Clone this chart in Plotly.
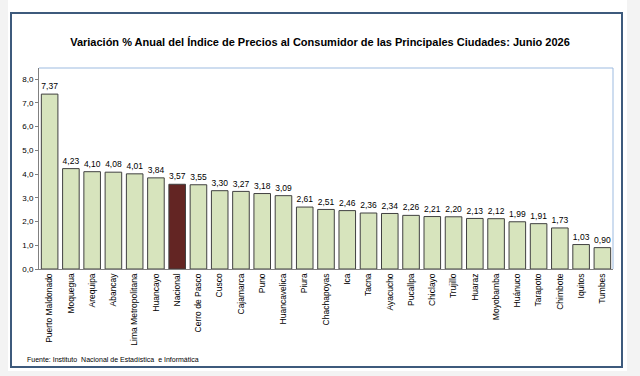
import plotly.graph_objects as go

cities = ["Puerto Maldonado", "Moquegua", "Arequipa", "Abancay", "Lima Metropolitana",
          "Huancayo", "Nacional", "Cerro de Pasco", "Cusco", "Cajamarca", "Puno",
          "Huancavelica", "Piura", "Chachapoyas", "Ica", "Tacna", "Ayacucho", "Pucallpa",
          "Chiclayo", "Trujillo", "Huaraz", "Moyobamba", "Huánuco", "Tarapoto",
          "Chimbote", "Iquitos", "Tumbes"]
values = [7.37, 4.23, 4.10, 4.08, 4.01, 3.84, 3.57, 3.55, 3.30, 3.27, 3.18, 3.09, 2.61,
          2.51, 2.46, 2.36, 2.34, 2.26, 2.21, 2.20, 2.13, 2.12, 1.99, 1.91, 1.73, 1.03, 0.90]
y_ticks = [0, 1, 2, 3, 4, 5, 6, 7, 8]
title_text = "Variación % Anual del Índice de Precios al Consumidor de las Principales Ciudades: Junio 2026"
source_text = "Fuente: Instituto  Nacional de Estadística  e Informática"

GREEN = "#d7e4bd"
RED = "#632523"
GRAY_BG = "#f3f3f3"
colors = [RED if c == "Nacional" else GREEN for c in cities]
labels = [f"{v:.2f}".replace(".", ",") for v in values]

fig = go.Figure(go.Bar(
    x=cities, y=values, marker=dict(color=colors, line=dict(color="#404040", width=1)),
    text=labels, textposition="outside", cliponaxis=False,
    textfont=dict(family="Liberation Sans, Arial", size=9, color="#000000"),
))

W, H = 640, 376
ml, mr, mt, mb = 39, 27, 68, 107
pw, ph = W - ml - mr, H - mt - mb

def px_x(x):
    return (x - ml) / pw

def px_y(y):
    return (H - mb - y) / ph

fig.update_layout(
    width=W, height=H, margin=dict(l=ml, r=mr, t=mt, b=mb, pad=0),
    paper_bgcolor="white", plot_bgcolor="white",
    separators=",.",
    bargap=0.22, showlegend=False,
    title=dict(text="<b>" + title_text + "</b>", x=px_x(320), xref="paper", xanchor="center",
               y=1 - 42 / H, yref="container", yanchor="middle",
               font=dict(family="Liberation Sans, Arial", size=11, color="#000000")),
    xaxis=dict(tickangle=-90, tickfont=dict(family="Liberation Sans, Arial", size=8.5, color="#000"),
               showline=True, linecolor="#808080", linewidth=1, ticks="", showgrid=False),
    yaxis=dict(range=[0, 8.47], tickvals=y_ticks, tickformat=".1f",
               tickfont=dict(family="Liberation Sans, Arial", size=8, color="#000"),
               showline=True, linecolor="#808080", linewidth=1, ticks="outside", ticklen=3,
               tickcolor="#808080", showgrid=False, zeroline=False),
    shapes=[
        dict(type="rect", xref="paper", yref="paper", x0=px_x(0), x1=px_x(8),
             y0=px_y(376), y1=px_y(0), fillcolor=GRAY_BG, line=dict(width=0), layer="below"),
        dict(type="rect", xref="paper", yref="paper", x0=px_x(627), x1=px_x(640),
             y0=px_y(376), y1=px_y(0), fillcolor=GRAY_BG, line=dict(width=0), layer="below"),
        dict(type="rect", xref="paper", yref="paper", x0=px_x(0), x1=px_x(640),
             y0=px_y(376), y1=px_y(371), fillcolor=GRAY_BG, line=dict(width=0), layer="below"),
        dict(type="rect", xref="paper", yref="paper", x0=px_x(11), x1=px_x(622),
             y0=px_y(367), y1=px_y(13), fillcolor="white",
             line=dict(color="#3d5a7c", width=2), layer="below"),
        dict(type="line", xref="paper", yref="paper", x0=0, x1=1, y0=1, y1=1,
             line=dict(color="#9dbbe0", width=1)),
        dict(type="line", xref="paper", yref="paper", x0=1, x1=1, y0=0, y1=1,
             line=dict(color="#9dbbe0", width=1)),
    ],
    annotations=[dict(text=source_text, xref="paper", yref="paper", x=px_x(25), y=px_y(359),
                      xanchor="left", yanchor="middle", showarrow=False,
                      font=dict(family="Liberation Sans, Arial", size=7, color="#000"))],
)

fig.write_html("out.html")
